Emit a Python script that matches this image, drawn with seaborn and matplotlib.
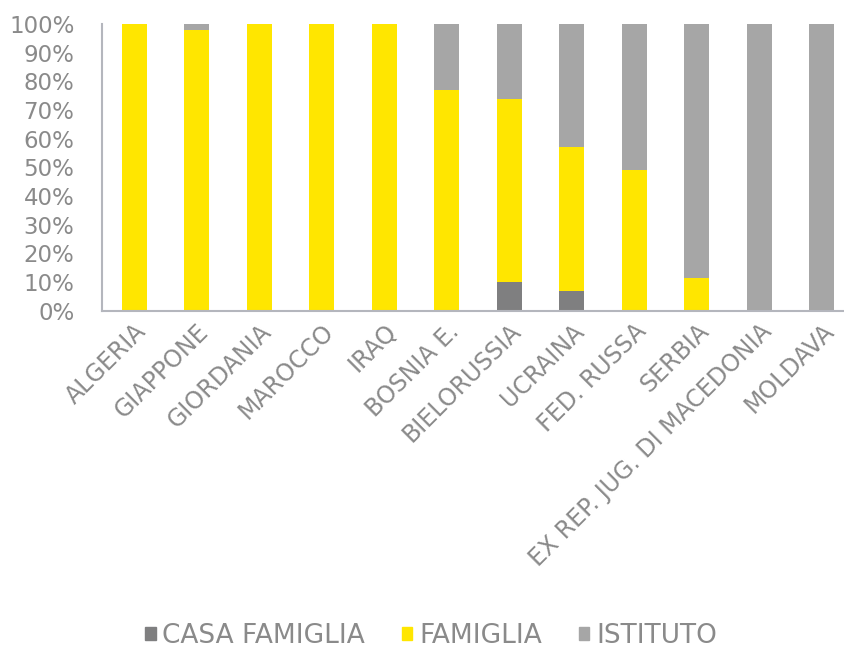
import numpy as np
import pandas as pd
import matplotlib
matplotlib.use("Agg")
import matplotlib.pyplot as plt
from matplotlib.patches import Patch
from matplotlib.ticker import PercentFormatter
import seaborn as sns

countries = ["ALGERIA", "GIAPPONE", "GIORDANIA", "MAROCCO", "IRAQ", "BOSNIA E.",
             "BIELORUSSIA", "UCRAINA", "FED. RUSSA", "SERBIA",
             "EX REP. JUG. DI MACEDONIA", "MOLDAVA"]
casa_famiglia = [0, 0, 0, 0, 0, 0, 10, 7, 0, 0, 0, 0]
famiglia = [100, 98, 100, 100, 100, 77, 64, 50, 49, 11.5, 0, 0]
istituto = [0, 2, 0, 0, 0, 23, 26, 43, 51, 88.5, 100, 100]

colors = {"CASA FAMIGLIA": "#7f7f80", "FAMIGLIA": "#ffe600", "ISTITUTO": "#a6a6a6"}
text_color = "#8a8a8a"

df = pd.DataFrame({"paese": countries, "casa": casa_famiglia,
                   "fam": famiglia, "ist": istituto})
df["top_casa"] = df["casa"]
df["top_fam"] = df["casa"] + df["fam"]
df["top_ist"] = df["top_fam"] + df["ist"]

sns.set_style("white")
plt.rcParams["font.family"] = ["DejaVu Sans"]

fig = plt.figure(figsize=(8.45, 6.53), dpi=100)
ax = fig.add_axes([0.121, 0.524, 0.879, 0.439])

# stacked bars: draw cumulative totals from the top layer down
for col, name in [("top_ist", "ISTITUTO"), ("top_fam", "FAMIGLIA"), ("top_casa", "CASA FAMIGLIA")]:
    sns.barplot(data=df, x="paese", y=col, color=colors[name], width=0.4,
                saturation=1, ax=ax, linewidth=0)

ax.set_xlim(-0.51, 11.37)
ax.set_ylim(0, 100)
ax.set_yticks(np.arange(0, 101, 10))
ax.yaxis.set_major_formatter(PercentFormatter(decimals=0))
ax.set_xlabel("")
ax.set_ylabel("")

for s in ["top", "right"]:
    ax.spines[s].set_visible(False)
for s in ["left", "bottom"]:
    ax.spines[s].set_color("#b4b6bd")
    ax.spines[s].set_linewidth(1.5)

ax.tick_params(axis="y", length=0, pad=20, labelsize=16.5, labelcolor=text_color)
ax.tick_params(axis="x", length=0, pad=6, labelsize=17, labelcolor=text_color)
plt.setp(ax.get_xticklabels(), rotation=45, ha="right", rotation_mode="anchor")

handles = [Patch(color=colors[n], label=n) for n in ["CASA FAMIGLIA", "FAMIGLIA", "ISTITUTO"]]
leg = fig.legend(handles=handles, loc="center", bbox_to_anchor=(0.51, 0.026), ncol=3,
                 frameon=False, fontsize=19, handlelength=0.4, handleheight=0.4,
                 handletextpad=0.25, columnspacing=1.4)
for t in leg.get_texts():
    t.set_color(text_color)

fig.savefig("out.png", dpi=100)
